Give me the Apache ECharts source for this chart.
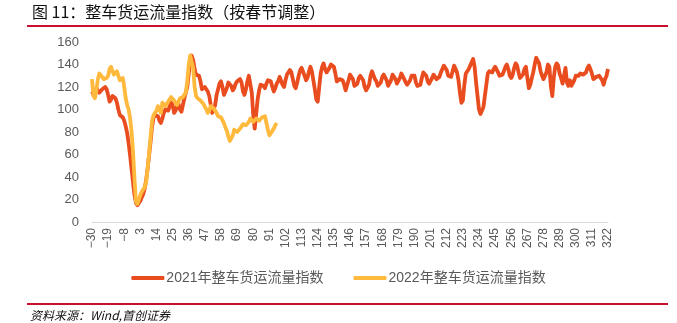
<!DOCTYPE html>
<html>
<head>
<meta charset="utf-8">
<script src="https://cdn.jsdelivr.net/npm/echarts@6/dist/echarts.min.js"></script>
<style>
  html, body { margin: 0; padding: 0; background: #fff; }
  #chart { width: 677px; height: 323px; }
</style>
</head>
<body>
<div id="chart"></div>
<script>
// Days relative to Spring Festival: -30 .. 322
const days = [];
for (let d = -30; d <= 322; d++) days.push(d);

// 2021 whole-truck freight flow index (Spring Festival aligned)
const flow2021 = [
  116,113,117,119,117,115,116,118,119,120,
  118,113,107,109,112,113,110,106,100,95,
  94,93,90,85,79,70,59,47,35,24,
  17,15,16,19,22,25,30,38,48,60,
  72,85,93,95,96,94,90,88,92,97,
  100,101,99,103,106,104,97,99,103,105,
  100,98,104,110,115,120,132,142,148,144,
  136,131,130,130,125,118,117,120,121,116,
  112,104,97,97,104,113,118,123,125,120,
  113,113,119,124,125,121,117,119,123,125,
  126,127,124,116,113,118,125,130,129,115,
  95,83,96,109,117,122,122,121,119,123,
  126,127,125,120,116,119,123,125,129,128,
  122,120,126,131,133,135,133,127,121,119,
  124,130,135,137,136,130,126,128,134,138,
  134,126,118,109,107,120,132,138,141,136,
  133,134,137,140,139,138,132,125,124,127,
  128,126,122,117,118,126,131,132,127,121,
  120,123,128,130,129,126,120,117,116,122,
  130,134,133,127,125,121,120,124,129,131,
  130,126,121,121,126,131,130,127,123,124,
  128,132,131,127,124,122,121,126,130,131,
  130,124,121,120,122,128,133,134,130,125,
  123,124,128,131,130,127,126,129,133,136,
  139,140,135,130,129,129,134,139,140,133,
  126,115,106,108,122,132,134,136,139,142,
  145,138,124,112,100,96,96,102,112,122,
  132,134,135,133,136,138,137,133,130,131,
  131,134,138,140,136,130,128,131,137,141,
  139,133,128,127,131,136,138,128,119,122,
  128,133,140,146,146,141,134,130,127,126,
  133,140,138,121,112,128,138,141,139,132,
  128,123,130,137,124,121,126,121,120,126,
  130,131,130,132,133,131,131,133,137,139,
  136,132,127,126,129,130,130,130,126,122,
  127,130,136
];

// 2022 whole-truck freight flow index (Spring Festival aligned, through day 96)
const flow2022 = [
  127,112,110,117,127,132,131,129,127,128,
  128,130,136,138,134,131,132,134,130,126,
  126,128,120,110,104,100,92,80,62,38,
  18,16,20,24,27,29,31,36,48,62,
  76,90,95,96,99,103,100,97,106,106,
  103,104,107,109,111,110,108,106,104,107,
  110,111,111,112,115,125,140,148,147,137,
  120,112,110,109,108,107,105,104,100,97,
  99,103,102,101,100,97,94,93,93,92,
  88,84,81,76,72,72,77,82,81,80,
  81,83,85,87,88,86,85,89,92,91,
  89,90,92,91,90,91,93,94,94,88,
  82,77,77,81,83,86,88
];

const yTicks = { min: 0, max: 160, step: 20 };

const seriesNames = ['2021年整车货运流量指数', '2022年整车货运流量指数'];
const seriesColors = ['#E94C1F', '#FFB93C'];

const latin = "'Liberation Sans', Arial, 'Noto Sans CJK SC', sans-serif";
const cjk = "'Noto Sans CJK SC', 'Liberation Sans', sans-serif";

const chart = echarts.init(document.getElementById('chart'), null, { renderer: 'canvas' });

chart.setOption({
  animation: false,
  backgroundColor: '#ffffff',
  textStyle: { fontFamily: latin },
  grid: { left: 92, right: 69, top: 42, bottom: 101, containLabel: false },
  legend: {
    data: seriesNames,
    left: 'center',
    top: 266,
    itemGap: 30,
    itemWidth: 33,
    itemHeight: 4,
    icon: 'roundRect',
    textStyle: { color: '#595959', fontSize: 14, fontFamily: latin, padding: [0, 0, 0, -3] }
  },
  xAxis: {
    type: 'category',
    data: days,
    boundaryGap: false,
    axisLine: { show: true, lineStyle: { color: '#d9d9d9', width: 1 } },
    axisTick: { show: false },
    axisLabel: {
      interval: 10,
      rotate: 90,
      margin: 6,
      color: '#595959',
      fontSize: 12,
      fontFamily: latin,
      formatter: v => String(v).replace('-', '\u2212')
    },
    splitLine: { show: false }
  },
  yAxis: {
    type: 'value',
    min: yTicks.min,
    max: yTicks.max,
    interval: yTicks.step,
    axisLine: { show: false },
    axisTick: { show: false },
    splitLine: { show: false },
    axisLabel: { color: '#595959', fontSize: 13, margin: 13, fontFamily: latin }
  },
  series: [
    {
      name: seriesNames[0],
      type: 'line',
      data: flow2021,
      showSymbol: false,
      symbol: 'none',
      color: seriesColors[0],
      lineStyle: { width: 3.8, color: seriesColors[0], join: 'round' },
      z: 2
    },
    {
      name: seriesNames[1],
      type: 'line',
      data: flow2022,
      showSymbol: false,
      symbol: 'none',
      color: seriesColors[1],
      lineStyle: { width: 3.8, color: seriesColors[1], join: 'round' },
      z: 3
    }
  ],
  graphic: [
    {
      type: 'text',
      left: 32,
      top: 4,
      style: {
        text: '图 11：整车货运流量指数（按春节调整）',
        fill: '#111111',
        font: "16px " + cjk
      }
    },
    {
      type: 'rect',
      shape: { x: 27, y: 25, width: 641, height: 2 },
      style: { fill: '#C8102E' }
    },
    {
      type: 'rect',
      shape: { x: 27, y: 303, width: 641, height: 2 },
      style: { fill: '#C8102E' }
    },
    {
      type: 'text',
      left: 30,
      top: 309,
      style: {
        text: '资料来源：Wind,首创证券',
        fill: '#111111',
        font: "italic 12px " + cjk
      }
    }
  ]
});
</script>
</body>
</html>
